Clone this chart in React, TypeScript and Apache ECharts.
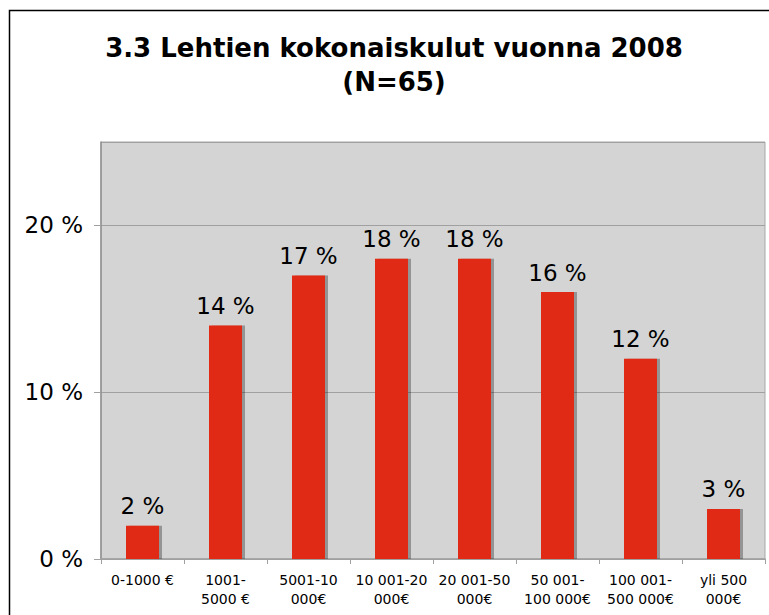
import React, { useEffect, useRef } from "react";
import * as echarts from "echarts";

const categories = [
  "0-1000 €",
  "1001-\n5000 €",
  "5001-10\n000€",
  "10 001-20\n000€",
  "20 001-50\n000€",
  "50 001-\n100 000€",
  "100 001-\n500 000€",
  "yli 500\n000€",
];
const values = [2, 14, 17, 18, 18, 16, 12, 3];
const titleLines = ["3.3 Lehtien kokonaiskulut vuonna 2008", "(N=65)"];

export default function App() {
  const ref = useRef<HTMLDivElement>(null);
  useEffect(() => {
    if (!ref.current) return;
    const chart = echarts.init(ref.current, null, { renderer: "svg" });
    chart.setOption({
      animation: false,
      backgroundColor: "#ffffff",
      title: {
        text: titleLines.join("\n"),
        left: 389,
        textAlign: "center",
        top: 26,
        textStyle: {
          fontFamily: "DejaVu Sans",
          fontWeight: "bold",
          fontSize: 26,
          lineHeight: 34,
          color: "#000",
        },
      },
      graphic: [
        {
          type: "rect",
          shape: { x: 9.5, y: 10.5, width: 900, height: 800 },
          style: { fill: "none", stroke: "#000", lineWidth: 1.5 },
          silent: true,
        },
      ],
      grid: {
        left: 101,
        top: 142,
        right: 4,
        bottom: 56,
        show: true,
        backgroundColor: "#d4d4d4",
        borderColor: "#a8a8a8",
        borderWidth: 1,
      },
      xAxis: {
        type: "category",
        data: categories,
        axisLine: { show: true, lineStyle: { color: "#a0a0a0", width: 1.5 } },
        axisTick: { show: true, length: 5, lineStyle: { color: "#a0a0a0" } },
        axisLabel: {
          fontFamily: "DejaVu Sans",
          fontSize: 14,
          color: "#000",
          lineHeight: 19,
          margin: 11,
          interval: 0,
        },
      },
      yAxis: {
        type: "value",
        min: 0,
        max: 25,
        interval: 10,
        axisLine: { show: true, lineStyle: { color: "#909090", width: 1.5 } },
        axisTick: { show: true, length: 7, lineStyle: { color: "#a0a0a0" } },
        splitLine: { show: true, lineStyle: { color: "#a0a0a0", width: 1 } },
        axisLabel: {
          formatter: (v: number) => `${v} %`,
          fontFamily: "DejaVu Sans",
          fontSize: 23,
          color: "#000",
          margin: 18,
          showMaxLabel: false,
        },
      },
      series: [
        {
          type: "bar",
          data: values,
          barWidth: 33,
          itemStyle: {
            color: "#e12a12",
            shadowColor: "rgba(0,0,0,0.3)",
            shadowOffsetX: 3,
            shadowOffsetY: 0,
            shadowBlur: 0,
          },
          label: {
            show: true,
            position: "top",
            distance: 8,
            formatter: (p: any) => `${p.value} %`,
            fontFamily: "DejaVu Sans",
            fontSize: 23,
            color: "#000",
          },
        },
      ],
    });
    return () => chart.dispose();
  }, []);
  return (
    <div
      ref={ref}
      style={{ position: "absolute", left: 0, top: 0, width: 769, height: 615 }}
    />
  );
}
